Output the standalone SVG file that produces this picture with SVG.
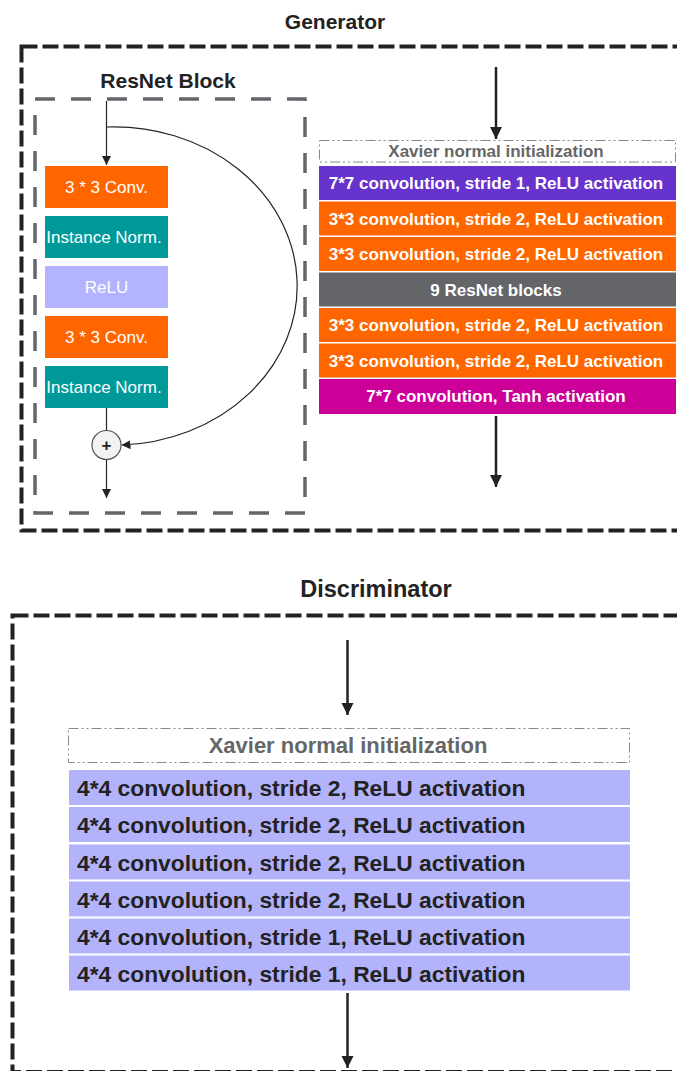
<svg xmlns="http://www.w3.org/2000/svg" width="677" height="1071" viewBox="0 0 677 1071">
<defs>
<style>
.title{font-family:"Liberation Sans",Arial,sans-serif;font-weight:bold;fill:#222;text-anchor:middle}
.outer{fill:none;stroke:#222;stroke-width:4;stroke-dasharray:16 5}
.inner{fill:none;stroke:#63666a;stroke-width:3.5;stroke-dasharray:20 16}
.xav{fill:#fff;stroke:#888;stroke-width:1;stroke-dasharray:10 3 2 3 2 3}
.gtx{font-family:"Liberation Sans",Arial,sans-serif;font-weight:bold;font-size:17px;fill:#fff;text-anchor:middle}
.ltx{font-family:"Liberation Sans",Arial,sans-serif;font-size:17px;fill:#fff;text-anchor:middle}
.dtx{font-family:"Liberation Sans",Arial,sans-serif;font-weight:bold;font-size:22.8px;fill:#222}
.xtx{font-family:"Liberation Sans",Arial,sans-serif;font-weight:bold;fill:#666;text-anchor:middle}
.big{fill:none;stroke:#222;stroke-width:2.5}
.thin{fill:none;stroke:#222;stroke-width:1.2}
</style>
<marker id="ahd" markerUnits="userSpaceOnUse" markerWidth="12" markerHeight="14" refX="12" refY="6" orient="auto" viewBox="0 0 12 12">
<path d="M0,0 L12,6 L0,12 Z" fill="#222"/>
</marker>
<marker id="as" markerUnits="userSpaceOnUse" markerWidth="9" markerHeight="9" refX="9" refY="4.5" orient="auto" viewBox="0 0 9 9">
<path d="M0,0 L9,4.5 L0,9 Z" fill="#222"/>
</marker>
</defs>
<rect width="677" height="1071" fill="#fff"/>

<g id="generator">
<text class="title" x="335" y="29" font-size="21">Generator</text>
<rect class="outer" x="21.5" y="46.5" width="700" height="484"/>
</g>

<g id="resnet-block">
<text class="title" x="168" y="88" font-size="21">ResNet Block</text>
<rect class="inner" x="35" y="99" width="270" height="414"/>
</g>

<g id="rb-conv1"><rect x="45" y="166" width="123" height="42" fill="#ff6600"/><text class="ltx" x="106.5" y="193">3 * 3 Conv.</text></g>
<g id="rb-norm1"><rect x="45" y="216" width="123" height="42" fill="#009999"/><text class="ltx" x="104" y="243">Instance Norm.</text></g>
<g id="rb-relu"><rect x="45" y="266" width="123" height="42" fill="#b3b3ff"/><text class="ltx" x="106.5" y="293" fill="#eeeeff">ReLU</text></g>
<g id="rb-conv2"><rect x="45" y="316" width="123" height="42" fill="#ff6600"/><text class="ltx" x="106.5" y="343">3 * 3 Conv.</text></g>
<g id="rb-norm2"><rect x="45" y="366" width="123" height="42" fill="#009999"/><text class="ltx" x="104" y="393">Instance Norm.</text></g>
<g id="rb-add"><circle cx="106.5" cy="445" r="14.5" fill="#f2f2f2" stroke="#555" stroke-width="1.2"/><text x="106.5" y="451" font-family="Liberation Sans,Arial,sans-serif" font-weight="bold" font-size="17" fill="#222" text-anchor="middle">+</text></g>

<g id="gen-xavier"><rect class="xav" x="319.5" y="140.5" width="356" height="21.5"/><text class="xtx" x="496" y="157" font-size="17">Xavier normal initialization</text></g>
<g id="gen-l1"><rect x="319" y="166" width="357" height="34" fill="#6633cc"/><text class="gtx" x="496" y="189">7*7 convolution, stride 1, ReLU activation</text></g>
<g id="gen-l2"><rect x="319" y="201.5" width="357" height="34" fill="#ff6600"/><text class="gtx" x="496" y="224.5">3*3 convolution, stride 2, ReLU activation</text></g>
<g id="gen-l3"><rect x="319" y="237" width="357" height="34" fill="#ff6600"/><text class="gtx" x="496" y="260">3*3 convolution, stride 2, ReLU activation</text></g>
<g id="gen-l4"><rect x="319" y="272.5" width="357" height="34" fill="#636569"/><text class="gtx" x="496" y="295.5">9 ResNet blocks</text></g>
<g id="gen-l5"><rect x="319" y="308" width="357" height="34" fill="#ff6600"/><text class="gtx" x="496" y="331">3*3 convolution, stride 2, ReLU activation</text></g>
<g id="gen-l6"><rect x="319" y="343.5" width="357" height="34" fill="#ff6600"/><text class="gtx" x="496" y="366.5">3*3 convolution, stride 2, ReLU activation</text></g>
<g id="gen-l7"><rect x="319" y="379" width="357" height="35" fill="#cc0099"/><text class="gtx" x="496" y="402">7*7 convolution, Tanh activation</text></g>

<g id="discriminator">
<text class="title" x="376" y="597" font-size="23.5">Discriminator</text>
<rect class="outer" x="12.5" y="615.5" width="700" height="456.5"/>
</g>

<g id="dis-xavier"><rect class="xav" x="68.5" y="728.5" width="561" height="34"/><text class="xtx" x="348" y="753" font-size="22">Xavier normal initialization</text></g>
<g id="dis-l1"><rect x="69" y="770" width="561" height="35" fill="#b3b3fc"/><text class="dtx" x="77" y="796">4*4 convolution, stride 2, ReLU activation</text></g>
<g id="dis-l2"><rect x="69" y="807" width="561" height="35" fill="#b3b3fc"/><text class="dtx" x="77" y="833">4*4 convolution, stride 2, ReLU activation</text></g>
<g id="dis-l3"><rect x="69" y="844.5" width="561" height="35" fill="#b3b3fc"/><text class="dtx" x="77" y="870.5">4*4 convolution, stride 2, ReLU activation</text></g>
<g id="dis-l4"><rect x="69" y="881.5" width="561" height="35" fill="#b3b3fc"/><text class="dtx" x="77" y="907.5">4*4 convolution, stride 2, ReLU activation</text></g>
<g id="dis-l5"><rect x="69" y="918.5" width="561" height="35" fill="#b3b3fc"/><text class="dtx" x="77" y="944.5">4*4 convolution, stride 1, ReLU activation</text></g>
<g id="dis-l6"><rect x="69" y="955.5" width="561" height="35" fill="#b3b3fc"/><text class="dtx" x="77" y="981.5">4*4 convolution, stride 1, ReLU activation</text></g>

<g id="connectors">
<line class="big" x1="496" y1="67" x2="496" y2="139" marker-end="url(#ahd)"/>
<line class="big" x1="496" y1="416" x2="496" y2="487" marker-end="url(#ahd)"/>
<line class="big" x1="347.5" y1="640" x2="347.5" y2="715" marker-end="url(#ahd)"/>
<line class="big" x1="347.5" y1="993" x2="347.5" y2="1068" marker-end="url(#ahd)"/>
<line class="thin" x1="106.5" y1="101" x2="106.5" y2="165" marker-end="url(#as)"/>
<line class="thin" x1="106.5" y1="408" x2="106.5" y2="430.5"/>
<line class="thin" x1="106.5" y1="459.5" x2="106.5" y2="498" marker-end="url(#as)"/>
<path class="thin" d="M106.5,127 A183,159 0 0 1 121.5,445" marker-end="url(#as)"/>
</g>
</svg>
